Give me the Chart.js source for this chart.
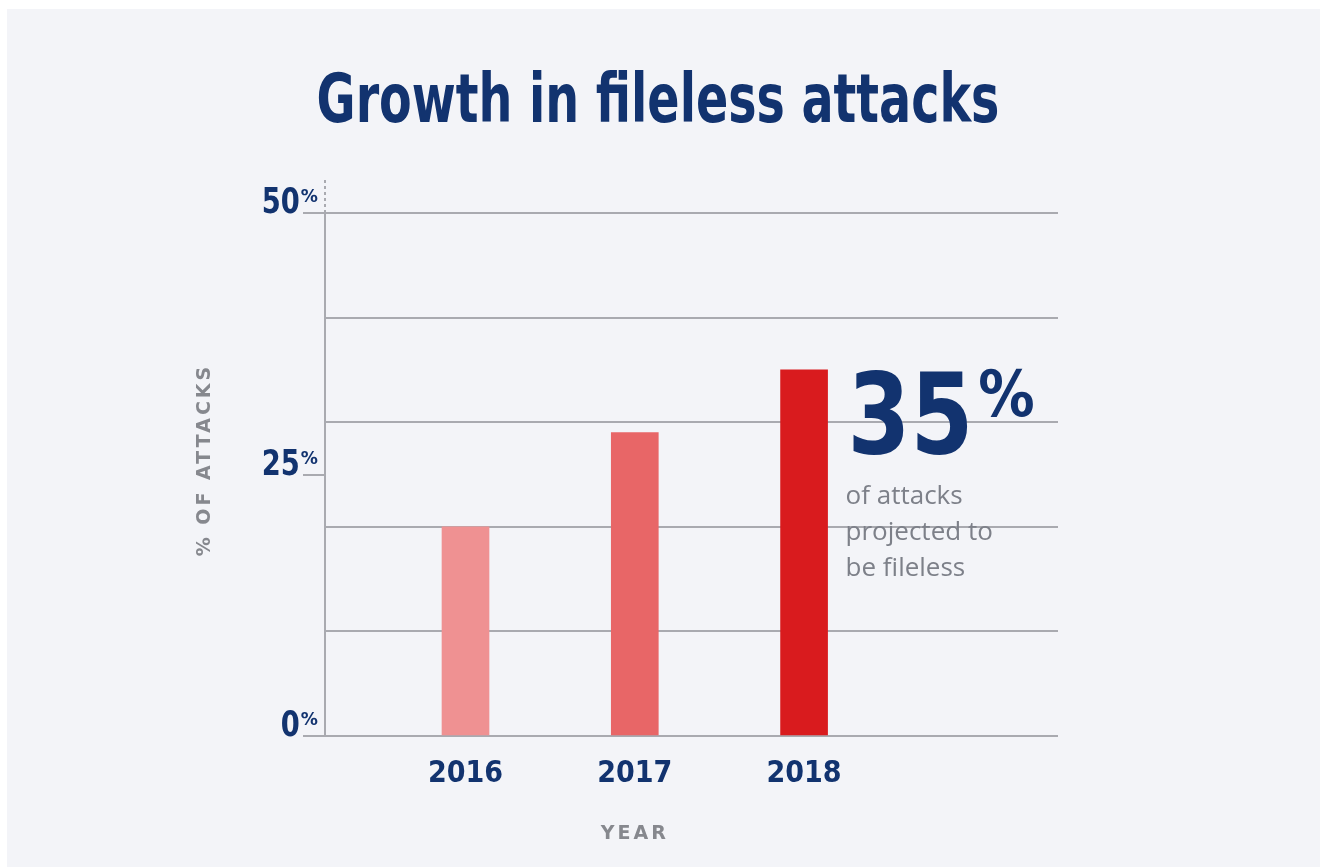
<!DOCTYPE html>
<html>
<head>
<meta charset="utf-8">
<script src="https://cdn.jsdelivr.net/npm/chart.js@4/dist/chart.umd.min.js"></script>
<style>
  html, body { margin: 0; padding: 0; background: #ffffff; }
  canvas { display: block; }
</style>
</head>
<body>
<canvas id="chart" width="1322" height="867"></canvas>
<script>
const years = [2016, 2017, 2018];
const attackShare = [20, 29, 35];
const barColors = ["#ef9192", "#e86667", "#d91b1e"];
const yTickValues = [0, 10, 20, 25, 30, 40, 50];
const yLabelValues = [0, 25, 50];
const calloutLines = ["of attacks", "projected to", "be fileless"];

const NAVY = "#12336f";
const GRID = "#a9aab0";
const LABEL_GRAY = "#86888e";
const SUB_GRAY = "#7d8089";
const BOLD = "'DejaVu Sans', sans-serif";
const CONDENSED = "'DejaVu Sans Condensed', 'DejaVu Sans', sans-serif";

// draws text squeezed horizontally to mimic a condensed face
function drawText(ctx, text, x, y, opts) {
  ctx.save();
  ctx.font = opts.font;
  ctx.fillStyle = opts.color;
  ctx.textAlign = opts.align || "left";
  ctx.textBaseline = opts.baseline || "alphabetic";
  if (opts.spacing) ctx.letterSpacing = opts.spacing + "px";
  ctx.translate(x, y);
  if (opts.rotate) ctx.rotate(opts.rotate);
  ctx.scale(opts.squeeze || 1, 1);
  ctx.fillText(text, 0, 0);
  const w = ctx.measureText(text).width * (opts.squeeze || 1);
  ctx.restore();
  return w;
}

const panelPlugin = {
  id: "panel",
  beforeDraw(chart) {
    const { ctx, width, height } = chart;
    ctx.save();
    ctx.fillStyle = "#ffffff";
    ctx.fillRect(0, 0, width, height);
    ctx.fillStyle = "#f3f4f8";
    ctx.fillRect(7, 9, width - 9, height - 9);
    ctx.restore();
  },
};

const decorPlugin = {
  id: "decor",
  afterDraw(chart) {
    const { ctx, chartArea } = chart;
    const xs = chart.scales.x;
    const ys = chart.scales.y;

    // title
    drawText(ctx, "Growth in fileless attacks", 658, 122, {
      font: "bold 68px " + BOLD, color: NAVY, align: "center", squeeze: 0.70,
    });

    // dashed extension of the y axis above 50%
    ctx.save();
    ctx.strokeStyle = GRID;
    ctx.lineWidth = 2;
    ctx.setLineDash([3, 3]);
    ctx.beginPath();
    ctx.moveTo(chartArea.left, chartArea.top);
    ctx.lineTo(chartArea.left, chartArea.top - 35);
    ctx.stroke();
    ctx.restore();

    // y labels with superscript %
    yLabelValues.forEach((v) => {
      const py = ys.getPixelForValue(v);
      const right = chartArea.left - 7;
      const pw = drawText(ctx, "%", right, py - 11, {
        font: "bold 18px " + BOLD, color: NAVY, align: "right", squeeze: 0.95,
      });
      drawText(ctx, String(v), right - pw - 1, py, {
        font: "bold 36px " + BOLD, color: NAVY, align: "right", squeeze: 0.76,
      });
    });

    // axis titles
    drawText(ctx, "% OF ATTACKS", 205, 460, {
      font: "bold 19px " + BOLD, color: LABEL_GRAY, align: "center",
      baseline: "middle", spacing: 3, rotate: -Math.PI / 2,
    });
    drawText(ctx, "YEAR", xs.getPixelForValue(years[1]), 834, {
      font: "bold 19px " + BOLD, color: LABEL_GRAY, align: "center",
      baseline: "middle", spacing: 3,
    });

    // callout next to the last bar
    const last = years.length - 1;
    const cx = xs.getPixelForValue(years[last]) + 47 / 2 + 20;
    const top = ys.getPixelForValue(attackShare[last]);
    const nw = drawText(ctx, String(attackShare[last]), cx, top + 83, {
      font: "bold 113px " + BOLD, color: NAVY, squeeze: 0.8,
    });
    drawText(ctx, "%", cx + nw + 5, top + 46, {
      font: "bold 64px " + BOLD, color: NAVY, squeeze: 0.88,
    });
    calloutLines.forEach((line, i) => {
      drawText(ctx, line, cx - 2, top + 134 + i * 36, {
        font: "26px 'Open Sans', sans-serif", color: SUB_GRAY,
      });
    });
  },
};

new Chart(document.getElementById("chart"), {
  type: "bar",
  data: {
    datasets: [{
      data: years.map((year, i) => ({ x: year, y: attackShare[i] })),
      backgroundColor: barColors,
      borderWidth: 0,
      barThickness: 47,
    }],
  },
  options: {
    responsive: false,
    animation: false,
    events: [],
    layout: { padding: { top: 213, left: 303, right: 264, bottom: 63 } },
    plugins: {
      legend: { display: false },
      tooltip: { enabled: false },
    },
    scales: {
      x: {
        type: "linear",
        min: 2015.17,
        max: 2019.5,
        offset: false,
        grid: { display: false, offset: false },
        border: { display: false },
        afterBuildTicks(scale) {
          scale.ticks = years.map((v) => ({ value: v }));
        },
        ticks: {
          autoSkip: false,
          maxRotation: 0,
          padding: 12,
          color: NAVY,
          font: { family: CONDENSED, size: 30, weight: "bold" },
          callback: (v) => String(v),
        },
      },
      y: {
        min: 0,
        max: 50,
        afterBuildTicks(scale) {
          scale.ticks = yTickValues.map((v) => ({ value: v }));
        },
        ticks: { display: false },
        grid: {
          lineWidth: 2,
          drawTicks: true,
          tickLength: 22,
          color: (c) => (c.tick && c.tick.value === 25 ? "rgba(0,0,0,0)" : GRID),
          tickColor: (c) => (c.tick && yLabelValues.includes(c.tick.value) ? GRID : "rgba(0,0,0,0)"),
        },
        border: { color: GRID, width: 2 },
      },
    },
  },
  plugins: [panelPlugin, decorPlugin],
});
</script>
</body>
</html>
